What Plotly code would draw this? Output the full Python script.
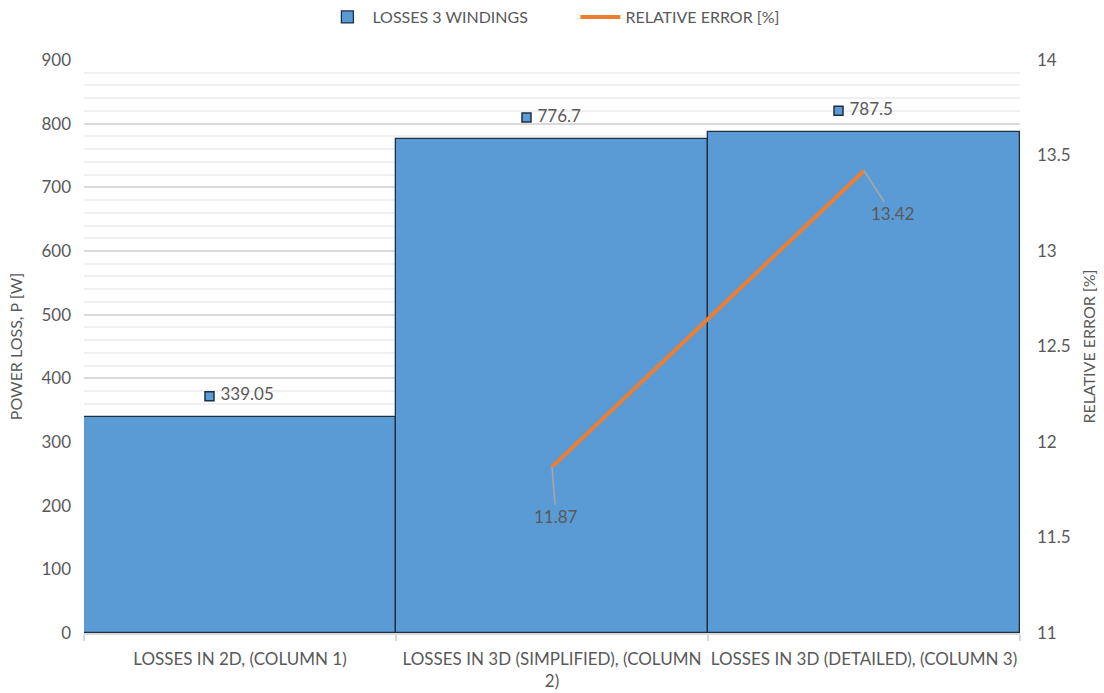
import plotly.graph_objects as go

# Chart data
categories = [
    "LOSSES IN 2D, (COLUMN 1)",
    "LOSSES IN 3D (SIMPLIFIED), (COLUMN<br>2)",
    "LOSSES IN 3D (DETAILED), (COLUMN 3)",
]
losses = [339.05, 776.7, 787.5]
rel_error = [None, 11.87, 13.42]
loss_labels = ["339.05", "776.7", "787.5"]

BAR_BLUE = "#5B9BD5"
OUTLINE = "#1f2f40"
ORANGE = "#ED7D31"
TEXT = "#595959"
FONT = "Lato"

W, H = 1104, 693
M_L, M_R, M_T, M_B = 84, 84, 60, 60
px_per_x = (W - M_L - M_R) / 3.0
px_per_y = (H - M_T - M_B) / 900.0

xs = list(range(len(categories)))

fig = go.Figure()

fig.add_trace(go.Bar(
    x=xs, y=losses, width=1.0,
    name="LOSSES 3 WINDINGS",
    marker=dict(color=BAR_BLUE, line=dict(color=OUTLINE, width=1.3)),
    yaxis="y", hoverinfo="y",
))

fig.add_trace(go.Scatter(
    x=xs, y=rel_error, mode="lines",
    name="RELATIVE ERROR [%]",
    line=dict(color=ORANGE, width=4),
    yaxis="y2", connectgaps=False,
))

# Data labels for bars: small legend-key square followed by the value,
# centred over each bar
def label_width(s):
    return sum(5 if c == "." else 10 for c in s)

lab_x, lab_y = [], []
for i, (v, s) in enumerate(zip(losses, loss_labels)):
    group = 10 + 6 + label_width(s)
    lab_x.append(i - (group / 2 - 5) / px_per_x)
    lab_y.append(v + 21 / px_per_y)

fig.add_trace(go.Scatter(
    x=lab_x, y=lab_y, mode="markers+text",
    text=["\u00a0" + s for s in loss_labels], textposition="middle right",
    textfont=dict(family=FONT, size=17, color=TEXT),
    marker=dict(symbol="square", size=9, color=BAR_BLUE,
                line=dict(color=OUTLINE, width=1.5)),
    showlegend=False, hoverinfo="skip", yaxis="y", cliponaxis=False,
))

# Labels for the relative error points with leader lines
offsets = {1: (4, 50), 2: (28, 43)}
for i, v in enumerate(rel_error):
    if v is None:
        continue
    ax, ay = offsets[i]
    fig.add_annotation(
        x=xs[i], y=v, xref="x", yref="y2",
        text=f"{v:.2f}", showarrow=True, arrowhead=0,
        arrowwidth=1.5, arrowcolor="#a6a6a6",
        ax=ax, ay=ay, standoff=0,
        font=dict(family=FONT, size=17, color=TEXT),
    )

fig.update_layout(
    width=W, height=H,
    margin=dict(l=M_L, r=M_R, t=M_T, b=M_B, autoexpand=False),
    paper_bgcolor="white", plot_bgcolor="white",
    font=dict(family=FONT, size=17, color=TEXT),
    bargap=0,
    showlegend=True,
    legend=dict(orientation="h", x=0.525, xanchor="center",
                y=1.075, yanchor="middle",
                font=dict(family=FONT, size=16, color=TEXT),
                itemwidth=40, tracegroupgap=0, entrywidth=198),
    xaxis=dict(
        range=[-0.5, 2.5],
        tickmode="array", tickvals=xs, ticktext=categories,
        showgrid=False, zeroline=False,
        showline=True, linecolor="#d9d9d9", linewidth=1.5,
        ticks="", tickfont=dict(family=FONT, size=17, color=TEXT),
        ticklabelstandoff=10,
        minor=dict(tickmode="array", tickvals=[-0.5, 0.5, 1.5, 2.5],
                   ticks="outside", ticklen=6, tickcolor="#d9d9d9",
                   tickwidth=1.5, showgrid=False),
    ),
    yaxis=dict(
        range=[0, 900], dtick=100,
        showgrid=True, gridcolor="#d9d9d9", gridwidth=1.5,
        zeroline=False, showline=False,
        tickfont=dict(family=FONT, size=17, color=TEXT),
        ticklabelstandoff=12,
        minor=dict(dtick=20, showgrid=True, gridcolor="#f0f0f0", gridwidth=1.5),
        title=dict(text="POWER LOSS, P [W]",
                   font=dict(family=FONT, size=16, color=TEXT), standoff=14),
    ),
    yaxis2=dict(
        range=[11, 14], dtick=0.5, overlaying="y", side="right",
        showgrid=False, zeroline=False, showline=False,
        tickfont=dict(family=FONT, size=17, color=TEXT),
        ticklabelstandoff=16,
        title=dict(text="RELATIVE ERROR [%]",
                   font=dict(family=FONT, size=16, color=TEXT), standoff=14),
    ),
)

fig.write_html("out.html")
